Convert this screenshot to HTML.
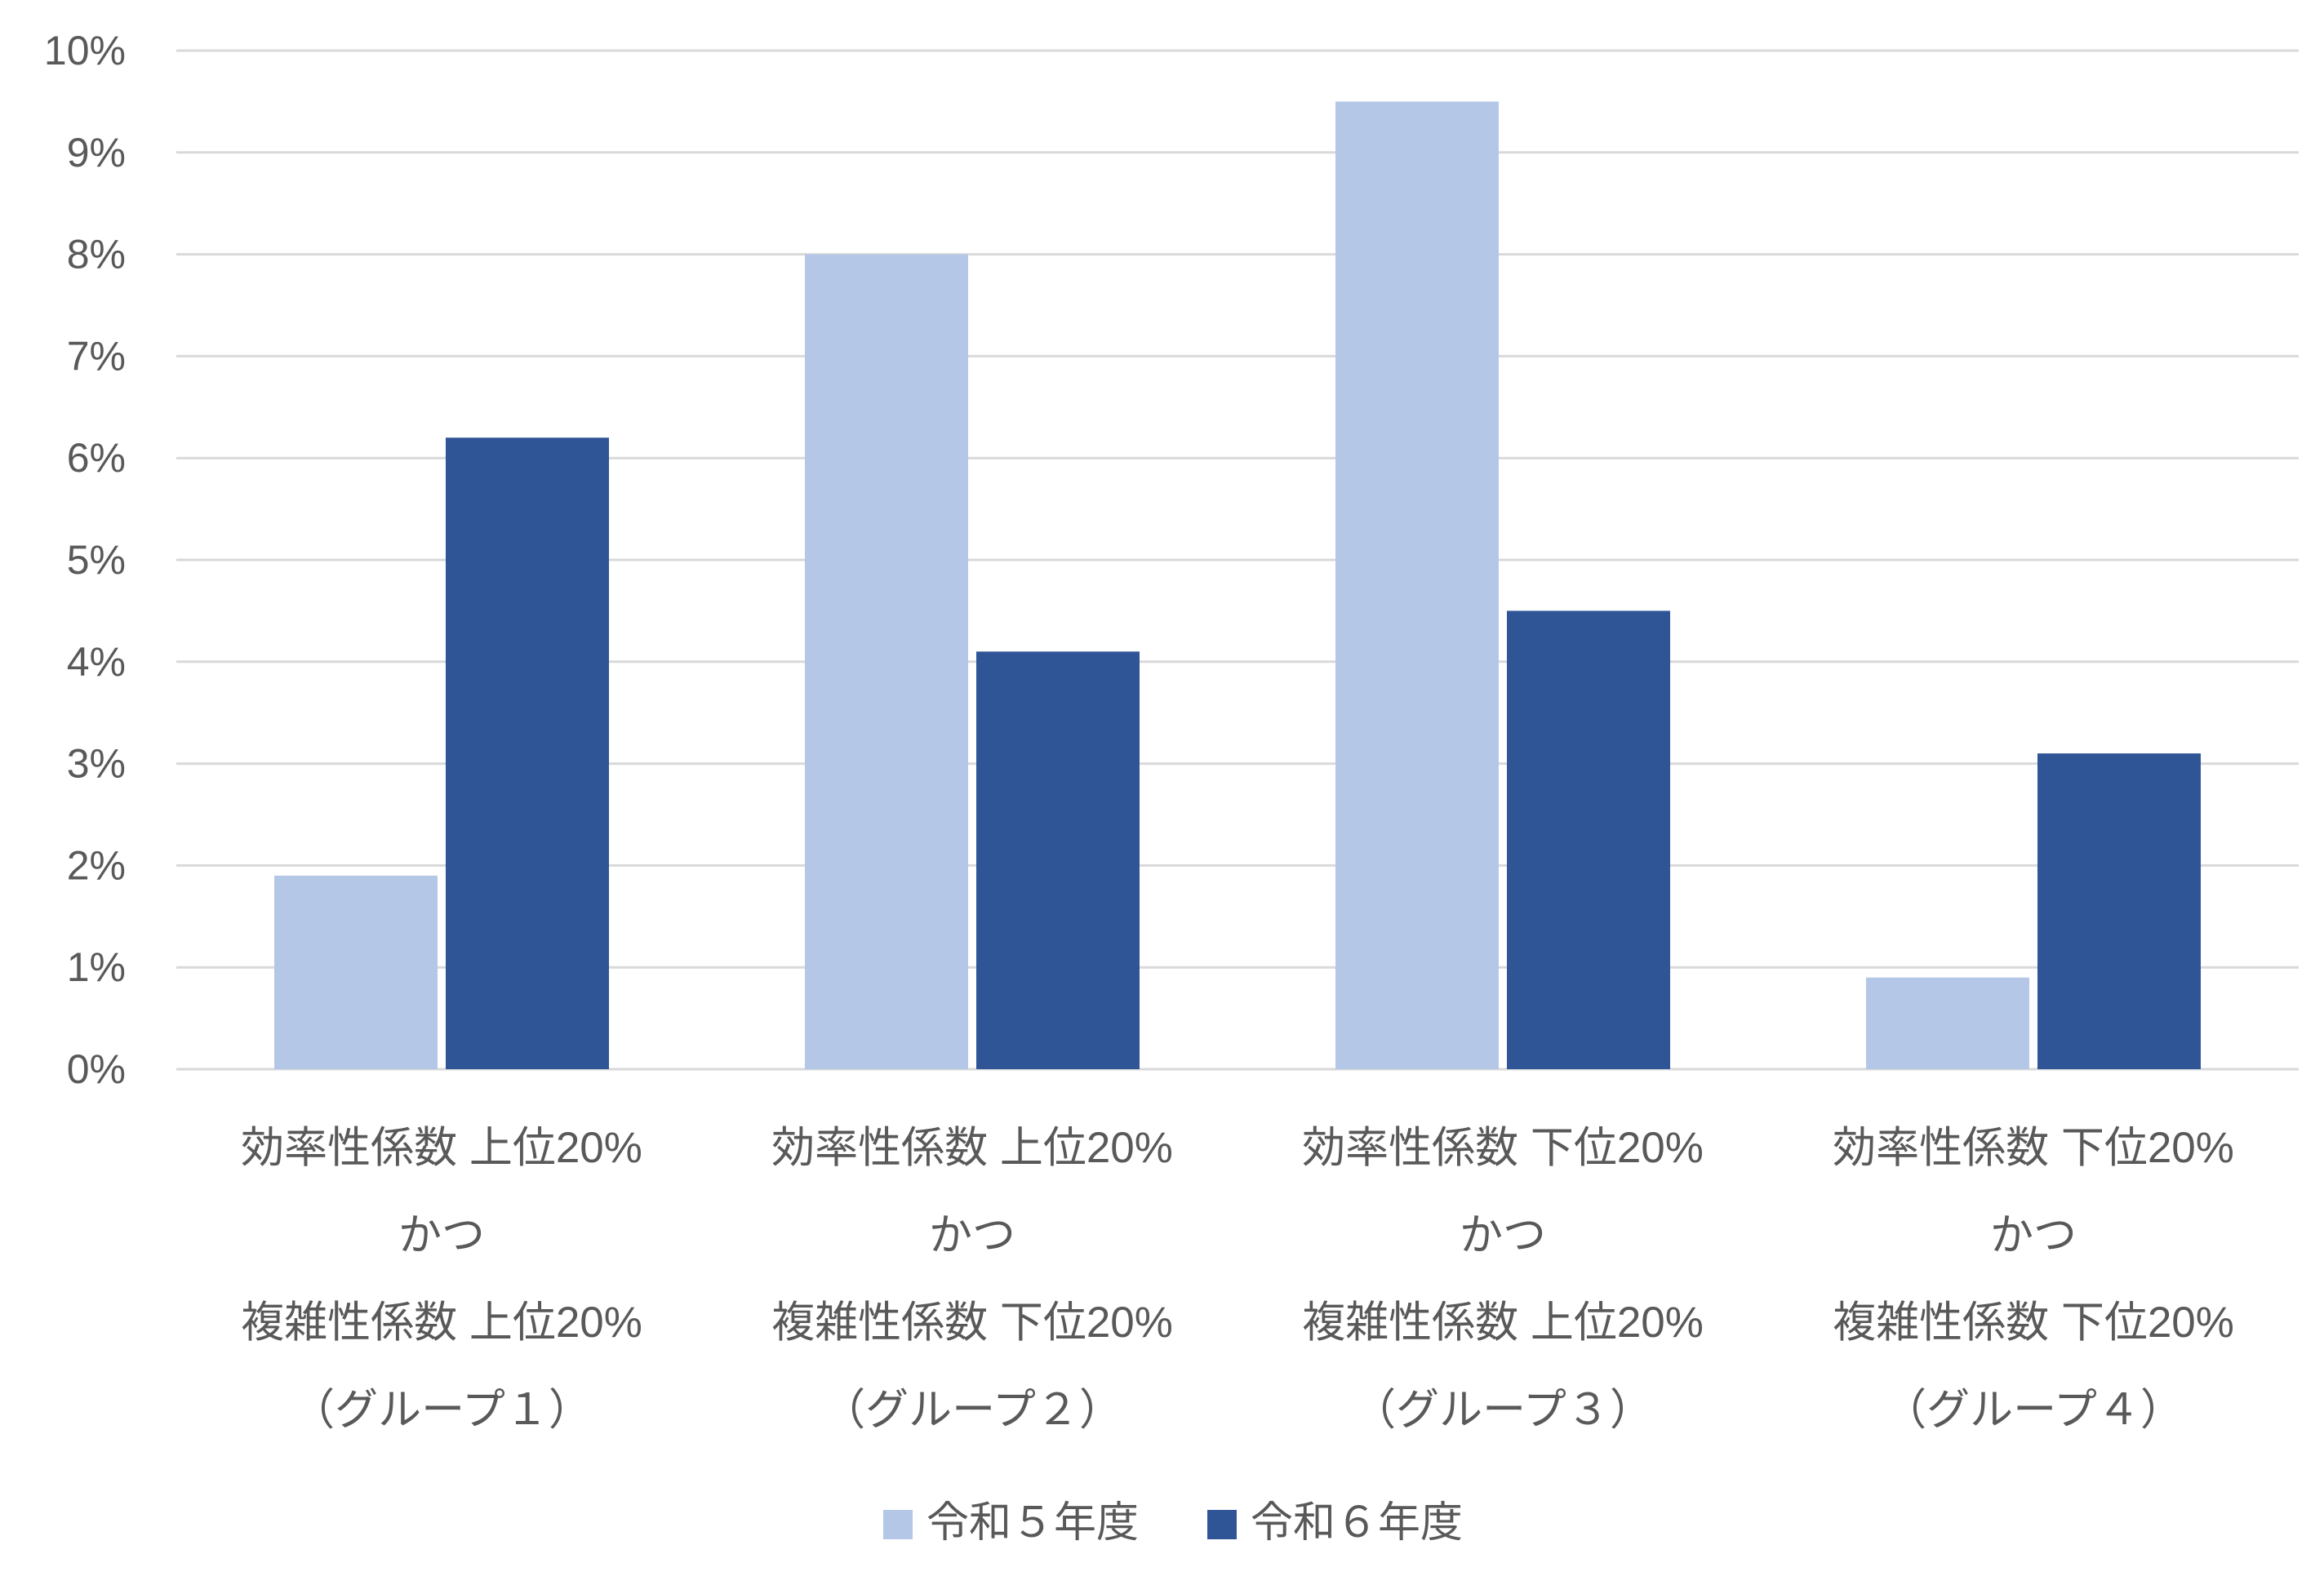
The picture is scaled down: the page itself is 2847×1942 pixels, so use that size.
<!DOCTYPE html>
<html><head><meta charset="utf-8"><style>
body{margin:0;background:#fff;}
svg text{font-family:"Liberation Sans","Noto Sans CJK JP",sans-serif;fill:#595959;}
</style></head><body>
<svg width="2847" height="1937" xmlns="http://www.w3.org/2000/svg">
<g id="grid"></g><g id="bars"></g><g id="xlabels"></g>
<g>
<rect x="1082" y="1850" width="36" height="36" fill="#B4C7E7"/>
<text x="1135" y="1883" font-size="52">令和５年度</text>
<rect x="1479" y="1850" width="36" height="36" fill="#2F5597"/>
<text x="1532" y="1883" font-size="52">令和６年度</text>
</g>
</svg>
<script>
const categories=[
 ["効率性係数 上位20%","かつ","複雑性係数 上位20%","（グループ１）"],
 ["効率性係数 上位20%","かつ","複雑性係数 下位20%","（グループ２）"],
 ["効率性係数 下位20%","かつ","複雑性係数 上位20%","（グループ３）"],
 ["効率性係数 下位20%","かつ","複雑性係数 下位20%","（グループ４）"]];
const r5=[1.9,8.0,9.5,0.9];
const r6=[6.2,4.1,4.5,3.1];
const ticks=[0,1,2,3,4,5,6,7,8,9,10];
const NS="http://www.w3.org/2000/svg";
const X0=216,X1=2816,Y0=1310,Y1=62,MAX=10;
const y=v=>Y0-(v/MAX)*(Y0-Y1);
const bw=(X1-X0)/categories.length;
const grid=document.getElementById('grid');
ticks.forEach(t=>{
 const l=document.createElementNS(NS,'line');
 l.setAttribute('x1',X0);l.setAttribute('x2',X1);l.setAttribute('y1',y(t));l.setAttribute('y2',y(t));
 l.setAttribute('stroke','#D9D9D9');l.setAttribute('stroke-width','3');
 
 
 grid.appendChild(l);
 const tx=document.createElementNS(NS,'text');
 tx.setAttribute('x',154);tx.setAttribute('y',y(t)+17);tx.setAttribute('text-anchor','end');tx.setAttribute('font-size','50');
 tx.textContent=t+'%';
 
 
 grid.appendChild(tx);
});
const bars=document.getElementById('bars'),xl=document.getElementById('xlabels');
categories.forEach((c,i)=>{
 const cx=X0+bw*(i+0.5);
 [[r5[i],'#B4C7E7',cx-205],[r6[i],'#2F5597',cx+5]].forEach(([v,col,x],k)=>{
  const r=document.createElementNS(NS,'rect');
  r.setAttribute('x',x);r.setAttribute('width',200);r.setAttribute('y',y(v));r.setAttribute('height',Y0-y(v));r.setAttribute('fill',col);
  
  
  bars.appendChild(r);
 });
 c.forEach((s,j)=>{
  const t=document.createElementNS(NS,'text');
  t.setAttribute('x',cx);t.setAttribute('y',1424+j*107);t.setAttribute('text-anchor','middle');t.setAttribute('font-size','53');
  t.textContent=s;
  
  
  xl.appendChild(t);
 });
});
</script>
</body></html>
